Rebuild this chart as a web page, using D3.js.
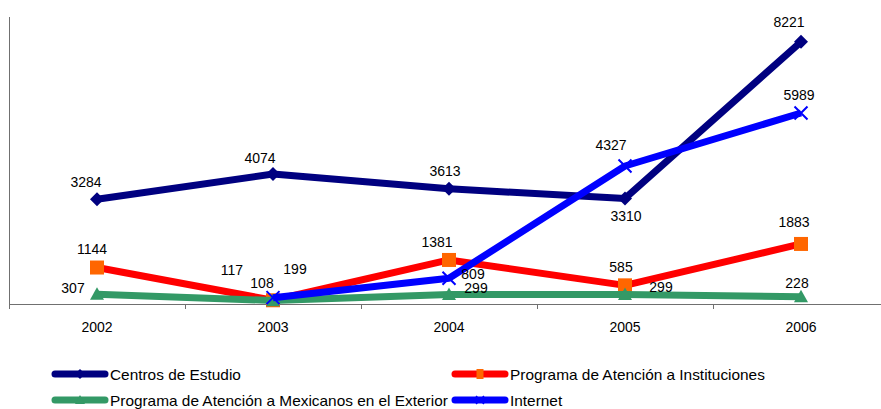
<!DOCTYPE html>
<html><head><meta charset="utf-8">
<script src="https://cdn.jsdelivr.net/npm/d3@7"></script>
<style>
html,body{margin:0;padding:0;background:#fff;}
svg{display:block;font-family:"Liberation Sans",Arial,sans-serif;}
</style></head>
<body>
<svg id="chart" width="881" height="409"></svg>
<script>
// ---- data ----
const years = ["2002", "2003", "2004", "2005", "2006"];
const centrosEstudio = [3284, 4074, 3613, 3310, 8221];
const atencionInstituciones = [1144, 117, 1381, 585, 1883];
const atencionMexicanos = [307, 108, 299, 299, 228];
const internet = [null, 199, 809, 4327, 5989];
const seriesNames = [
  "Centros de Estudio",
  "Programa de Atención a Instituciones",
  "Programa de Atención a Mexicanos en el Exterior",
  "Internet"
];
const yDomainMax = 9000;

// ---- label placement (offsets from point, px) ----
const labelOffsets = [
  [[-11,-12],[-13,-11],[-4,-13],[1,23],[-12,-15]],
  [[-5,-14],[-41,-25],[-12,-13],[-4,-13],[-7,-17]],
  [[-24,-1],[-11,-13],[27,-1],[36,-2],[-4,-9]],
  [null,[22,-24],[24,1],[-14,-16],[-2,-13]]
];

const series = [
  {name: seriesNames[0], values: centrosEstudio, line: "#000080", marker: "diamond", mcolor: "#000080"},
  {name: seriesNames[1], values: atencionInstituciones, line: "#FF0000", marker: "square", mcolor: "#FF6600"},
  {name: seriesNames[2], values: atencionMexicanos, line: "#339966", marker: "triangle", mcolor: "#339966"},
  {name: seriesNames[3], values: internet, line: "#0000FF", marker: "x", mcolor: "#0000FF"}
];

const svg = d3.select("#chart");
const plotLeft = 9, plotRight = 889, plotTop = 17, plotBottom = 304;

const x = d3.scaleBand().domain(years).range([plotLeft, plotRight]).padding(0);
const y = d3.scaleLinear().domain([0, yDomainMax]).range([plotBottom, plotTop]);
const cx = d => x(d) + x.bandwidth() / 2;

// axes
const axisColor = "#707070";
svg.append("line").attr("x1", plotLeft + 0.5).attr("x2", plotLeft + 0.5).attr("y1", plotTop).attr("y2", plotBottom + 5)
  .attr("stroke", axisColor).attr("stroke-width", 1);
svg.append("line").attr("x1", plotLeft).attr("x2", 881).attr("y1", plotBottom + 0.5).attr("y2", plotBottom + 0.5)
  .attr("stroke", axisColor).attr("stroke-width", 1);

const xAxis = d3.axisBottom(x).tickSize(0).tickPadding(0);
const gx = svg.append("g").attr("transform", `translate(0,${plotBottom})`).call(xAxis);
gx.select(".domain").remove();
gx.selectAll("text").attr("dy", null).attr("y", 28).attr("font-size", 14)
  .attr("font-family", "Liberation Sans, Arial, sans-serif").attr("fill", "#000");
// band boundary ticks
svg.selectAll(".btick").data(years).enter().append("line")
  .attr("x1", d => x(d) + 0.5).attr("x2", d => x(d) + 0.5)
  .attr("y1", plotBottom).attr("y2", plotBottom + 5)
  .attr("stroke", axisColor);

function markerPath(type, s) {
  switch (type) {
    case "diamond": return `M0,${-s}L${s},0L0,${s}L${-s},0Z`;
    case "square": return `M${-s},${-s}H${s}V${s}H${-s}Z`;
    case "triangle": return `M0,${-s}L${s},${s*0.8}L${-s},${s*0.8}Z`;
    case "x": return `M${-s},${-s}L${s},${s}M${s},${-s}L${-s},${s}`;
  }
}

const line = d3.line()
  .defined(d => d.v != null)
  .x(d => cx(d.year)).y(d => y(d.v));

series.forEach((s, si) => {
  const pts = years.map((yr, i) => ({year: yr, v: s.values[i], i}));
  svg.append("path").datum(pts).attr("d", line)
    .attr("fill", "none").attr("stroke", s.line).attr("stroke-width", 7)
    .attr("stroke-linejoin", "round");
  const valid = pts.filter(d => d.v != null);
  svg.selectAll(null).data(valid).enter().append("path")
    .attr("transform", d => `translate(${cx(d.year)},${y(d.v)})`)
    .attr("d", markerPath(s.marker, s.marker === "x" ? 6.5 : 7))
    .attr("fill", s.marker === "x" ? "none" : s.mcolor)
    .attr("stroke", s.marker === "x" ? s.mcolor : "none")
    .attr("stroke-width", s.marker === "x" ? 2 : 0);
});

// data labels (on top)
series.forEach((s, si) => {
  const pts = years.map((yr, i) => ({year: yr, v: s.values[i], i})).filter(d => d.v != null);
  svg.selectAll(null).data(pts).enter().append("text")
    .attr("x", d => cx(d.year) + labelOffsets[si][d.i][0])
    .attr("y", d => y(d.v) + labelOffsets[si][d.i][1])
    .attr("text-anchor", "middle").attr("font-size", 14).attr("fill", "#000")
    .text(d => d.v);
});

// legend
const legendPos = [[52, 374], [452, 374], [52, 400], [452, 400]];
series.forEach((s, i) => {
  const [lx, ly] = legendPos[i];
  const g = svg.append("g").attr("transform", `translate(${lx},${ly})`);
  g.append("line").attr("x1", 3).attr("x2", 53).attr("y1", 0).attr("y2", 0)
    .attr("stroke", s.line).attr("stroke-width", 7).attr("stroke-linecap", "round");
  const m = g.append("path").attr("transform", "translate(28,0)");
  if (s.marker === "x") {
    m.attr("d", markerPath("x", 4)).attr("fill", "none").attr("stroke", s.mcolor).attr("stroke-width", 1.5);
  } else if (s.marker === "square") {
    m.attr("d", "M-3.5,-5H3.5V5H-3.5Z").attr("fill", s.mcolor);
  } else {
    m.attr("d", markerPath(s.marker, 5)).attr("fill", s.mcolor);
  }
  g.append("text").attr("transform", "translate(58,6) scale(1.1,1)")
    .attr("font-size", 14).attr("fill", "#000")
    .text(s.name);
});
</script>
</body></html>
